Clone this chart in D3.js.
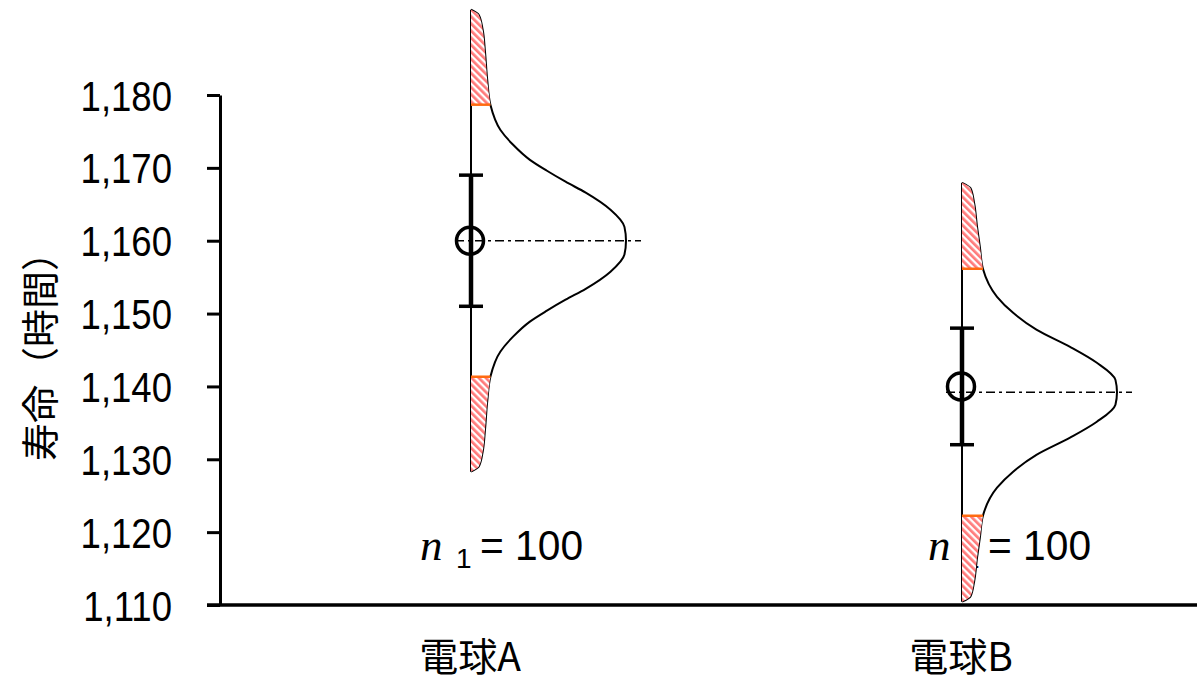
<!DOCTYPE html>
<html>
<head>
<meta charset="utf-8">
<script src="https://cdn.jsdelivr.net/npm/d3@7"></script>
<style>
  html, body { margin: 0; padding: 0; background: #fff; }
  svg { display: block; }
</style>
</head>
<body>
<svg id="chart" width="1197" height="683"></svg>
<script>
// ---------------- data ----------------
const categories = ["電球A", "電球B"];
const means = [1160, 1140];
const sds = [9, 8];
const sampleSizes = [100, 100];
const subscripts = ["1", "2"];
const yTicks = [1110, 1120, 1130, 1140, 1150, 1160, 1170, 1180];
const yDomain = [1110, 1180];
const yTitle = "寿命（時間）";

// distribution profiles (offset from centre in hours, relative width 0..1)
const distCenters = [1160, 1139.2];
const tailCutoffs = [18.67, 16.95];
const profileOffsetsA = [0, 1.9, 4.25, 6.6, 8.1, 9.6, 11.1, 13.2, 15.2, 18.67, 22, 26, 29, 31, 31.7];
const profileWidthsA  = [1, 0.99, 0.9, 0.74, 0.61, 0.49, 0.38, 0.27, 0.19, 0.125, 0.105, 0.09, 0.075, 0.05, 0];
const profileOffsetsB = [0, 1.7, 4.05, 6.2, 8.6, 10.9, 13.1, 16.95, 20, 22.7, 26, 28, 28.75];
const profileWidthsB  = [1, 0.99, 0.87, 0.70, 0.48, 0.33, 0.226, 0.135, 0.115, 0.097, 0.078, 0.055, 0];
const profileOffsets = [profileOffsetsA, profileOffsetsB];
const profileWidths = [profileWidthsA, profileWidthsB];

// ---------------- layout ----------------
const svg = d3.select("#chart");
const axisX = 220, plotTop = 95, plotBottom = 605, plotRight = 1197;
const y = d3.scaleLinear().domain(yDomain).range([plotBottom, plotTop]);
const x = d3.scalePoint().domain(categories).range([471, 962]);
const w = d3.scaleLinear().domain([0, 1]).range([0, 155]);

// hatch pattern
const defs = svg.append("defs");
const pat = defs.append("pattern")
  .attr("id", "hatch").attr("patternUnits", "userSpaceOnUse")
  .attr("width", 5).attr("height", 5)
  .attr("patternTransform", "rotate(-45)");
pat.append("rect").attr("width", 5).attr("height", 5).attr("fill", "#fff");
pat.append("rect").attr("width", 2.7).attr("height", 5).attr("fill", "#ff7b7b");

function compress(sel, k) {
  sel.each(function () {
    const len = this.getComputedTextLength();
    d3.select(this).attr("textLength", len * k).attr("lengthAdjust", "spacingAndGlyphs");
  });
}

// y axis
const yAxis = svg.append("g")
  .attr("transform", `translate(${axisX},0)`)
  .call(d3.axisLeft(y).tickValues(yTicks).tickSize(13).tickSizeOuter(0).tickPadding(35).tickFormat(d3.format(",")));
yAxis.select(".domain").attr("stroke", "#000").attr("stroke-width", 3);
yAxis.selectAll(".tick line").attr("stroke", "#000").attr("stroke-width", 3);
yAxis.selectAll(".tick text")
  .attr("font-family", "'Liberation Sans', Arial, sans-serif")
  .attr("font-size", 42).attr("fill", "#000").attr("dy", "0.36em");
compress(yAxis.selectAll(".tick text"), 0.87);

// x axis line
svg.append("line")
  .attr("x1", axisX - 13).attr("x2", plotRight)
  .attr("y1", y(yDomain[0])).attr("y2", y(yDomain[0]))
  .attr("stroke", "#000").attr("stroke-width", 3.5);

// y title
svg.append("text")
  .attr("transform", `translate(37,${(plotTop + plotBottom) / 2 - 3}) rotate(-90)`)
  .attr("text-anchor", "middle").attr("dominant-baseline", "central")
  .attr("font-family", "'Noto Sans CJK JP', sans-serif").attr("font-size", 38)
  .text(yTitle);

// x labels
svg.selectAll(".xlab").data(categories).enter().append("text")
  .attr("x", d => x(d) - 1).attr("y", 671)
  .attr("text-anchor", "middle")
  .attr("font-family", "'Noto Sans CJK JP', sans-serif").attr("font-size", 39)
  .text(d => d);

// groups
categories.forEach((cat, i) => {
  const cx = x(cat);
  const c = distCenters[i];
  const offs = profileOffsets[i], wids = profileWidths[i];
  const pts = [];
  for (let k = offs.length - 1; k >= 0; k--) pts.push({ v: c + offs[k], f: wids[k], o: offs[k] });
  for (let k = 1; k < offs.length; k++) pts.push({ v: c - offs[k], f: wids[k], o: -offs[k] });
  const ext = offs[offs.length - 1];

  const g = svg.append("g");
  g.append("line").attr("x1", cx).attr("x2", cx)
    .attr("y1", y(c + ext)).attr("y2", y(c - ext))
    .attr("stroke", "#000").attr("stroke-width", 2);
  const line = d3.line().x(d => cx + w(d.f)).y(d => y(d.v)).curve(d3.curveMonotoneY);
  g.append("path").attr("d", line(pts)).attr("fill", "none")
    .attr("stroke", "#000").attr("stroke-width", 2);

  // n label
  const nx = i === 0 ? cx - 51 : cx - 34;
  g.append("text").attr("x", nx).attr("y", 560)
    .attr("font-family", "'Liberation Serif', 'Times New Roman', serif")
    .attr("font-style", "italic").attr("font-size", 45).text("n");
  g.append("text").attr("x", nx + 36).attr("y", 568)
    .attr("font-family", "'Liberation Sans', Arial, sans-serif").attr("font-size", 28)
    .text(subscripts[i]);
  const eq = g.append("text").attr("x", nx + 60).attr("y", 560)
    .attr("font-family", "'Liberation Sans', Arial, sans-serif").attr("font-size", 42)
    .text("= " + sampleSizes[i]);
  compress(eq, 0.97);

  // hatched tails
  const cut = tailCutoffs[i];
  const area = d3.area().y(d => y(d.v)).x0(cx).x1(d => cx + w(d.f)).curve(d3.curveMonotoneY);
  const upper = pts.filter(d => d.o >= cut);
  const lower = pts.filter(d => d.o <= -cut);
  [upper, lower].forEach(seg => {
    g.append("path").attr("d", area(seg)).attr("fill", "url(#hatch)");
  });
  const fCut = wids[offs.indexOf(cut)];
  [c + cut, c - cut].forEach(v => {
    g.append("line").attr("x1", cx).attr("x2", cx + w(fCut))
      .attr("y1", y(v)).attr("y2", y(v))
      .attr("stroke", "#ff6a10").attr("stroke-width", 2.5);
  });

  // dash-dot centre line
  g.append("line").attr("x1", cx - 16).attr("x2", cx + 170)
    .attr("y1", y(c)).attr("y2", y(c))
    .attr("stroke", "#000").attr("stroke-width", 1.5)
    .attr("stroke-dasharray", "9,4,3,4");

  // error bar
  const m = means[i], s = sds[i];
  g.append("line").attr("x1", cx).attr("x2", cx)
    .attr("y1", y(m + s)).attr("y2", y(m - s))
    .attr("stroke", "#000").attr("stroke-width", 4.5);
  [m + s, m - s].forEach(v => {
    g.append("line").attr("x1", cx - 12).attr("x2", cx + 12)
      .attr("y1", y(v)).attr("y2", y(v))
      .attr("stroke", "#000").attr("stroke-width", 3.5);
  });
  g.append("circle").attr("cx", cx - 1).attr("cy", y(m)).attr("r", 13.5)
    .attr("fill", "none").attr("stroke", "#000").attr("stroke-width", 3.5);
});
</script>
</body>
</html>
